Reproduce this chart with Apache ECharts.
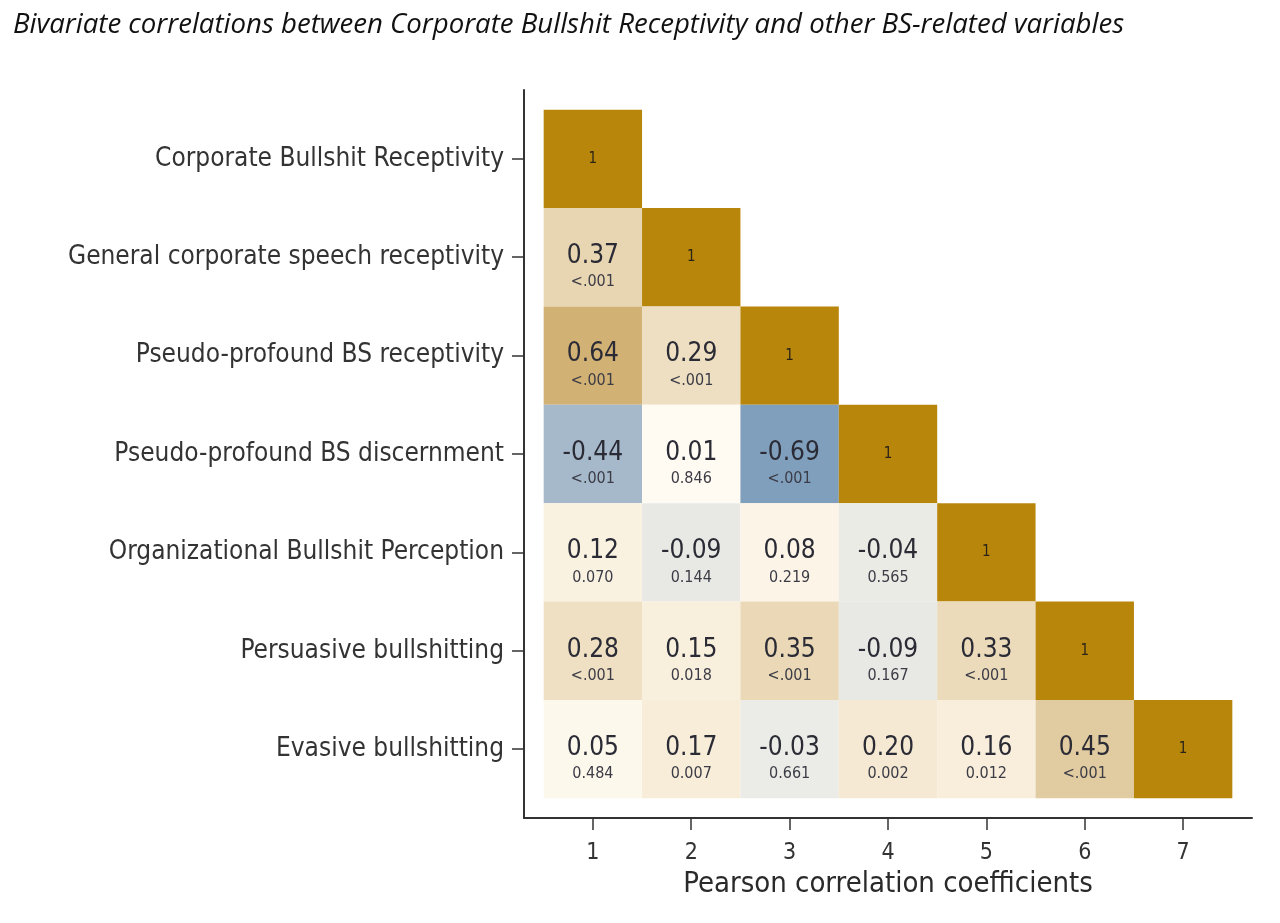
<!DOCTYPE html>
<html>
<head>
<meta charset="utf-8">
<script src="https://cdn.jsdelivr.net/npm/echarts@6/dist/echarts.min.js"></script>
<style>
  html, body { margin: 0; padding: 0; background: #fff; }
  #chart { width: 1280px; height: 923px; }
</style>
</head>
<body>
<div id="chart"></div>
<script>
// Lower-triangle correlation matrix, row by row (row i has i+1 cells).
const rowLabels = [
  'Corporate Bullshit Receptivity',
  'General corporate speech receptivity',
  'Pseudo-profound BS receptivity',
  'Pseudo-profound BS discernment',
  'Organizational Bullshit Perception',
  'Persuasive bullshitting',
  'Evasive bullshitting'
]
const colLabels = ['1', '2', '3', '4', '5', '6', '7']
const rValues = [
  [1],
  [0.37, 1],
  [0.64, 0.29, 1],
  [-0.44, 0.01, -0.69, 1],
  [0.12, -0.09, 0.08, -0.04, 1],
  [0.28, 0.15, 0.35, -0.09, 0.33, 1],
  [0.05, 0.17, -0.03, 0.20, 0.16, 0.45, 1]
]
const pValues = [
  [],
  ['<.001'],
  ['<.001', '<.001'],
  ['<.001', '0.846', '<.001'],
  ['0.070', '0.144', '0.219', '0.565'],
  ['<.001', '0.018', '<.001', '0.167', '<.001'],
  ['0.484', '0.007', '0.661', '0.002', '0.012', '<.001']
]

const FONT = "'Liberation Sans Narrow', 'DejaVu Sans Condensed', 'Roboto Condensed', sans-serif"
const TICKS = [1, 2, 3, 4, 5, 6, 7]

// diverging ramp: steel blue (negative) -> grey/cream (zero) -> dark goldenrod (positive)
const colorStops = [
  [-1, [74, 118, 164]],
  [-0.69, [127, 159, 189]],
  [-0.44, [166, 185, 202]],
  [-0.09, [232, 233, 228]],
  [-0.001, [237, 237, 232]],
  [0, [255, 252, 243]],
  [0.15, [249, 239, 221]],
  [0.37, [232, 214, 178]],
  [0.64, [210, 177, 116]],
  [0.999, [196, 152, 70]],
  [1, [184, 134, 11]]
]

function colorFor(v) {
  for (let i = 1; i < colorStops.length; i++) {
    const a = colorStops[i - 1], b = colorStops[i]
    if (v <= b[0]) {
      const t = (v - a[0]) / (b[0] - a[0])
      const c = a[1].map(function (x, k) { return Math.round(x + (b[1][k] - x) * t) })
      return 'rgb(' + c.join(',') + ')'
    }
  }
  return 'rgb(184,134,11)'
}

const cells = []
rValues.forEach(function (row, i) {
  row.forEach(function (r, j) {
    cells.push([j + 1, i + 1, r, j === i ? '' : pValues[i][j]])
  })
})

const chart = echarts.init(document.getElementById('chart'))
chart.setOption({
  backgroundColor: '#fff',
  animation: false,
  title: {
    text: 'Bivariate correlations between Corporate Bullshit Receptivity and other BS-related variables',
    left: 8, top: 6,
    textStyle: { fontFamily: "'Open Sans', sans-serif", fontStyle: 'italic', fontWeight: 'normal', fontSize: 27.6, color: '#111' }
  },
  grid: { left: 524, right: 28, top: 90, bottom: 105 },
  xAxis: {
    type: 'value', min: 0.3, max: 7.7,
    name: 'Pearson correlation coefficients',
    nameLocation: 'middle', nameGap: 52,
    nameTextStyle: { fontFamily: FONT, fontSize: 29, color: '#2a2a2a' },
    axisLine: { show: true, lineStyle: { color: '#333', width: 2 } },
    axisTick: { show: true, length: 12, customValues: TICKS, lineStyle: { color: '#333', width: 1.5 } },
    axisLabel: {
      customValues: TICKS, margin: 24,
      fontFamily: FONT, fontSize: 23, color: '#333',
      formatter: function (v) { return colLabels[Math.round(v) - 1] }
    },
    splitLine: { show: false }
  },
  yAxis: {
    type: 'value', min: 0.3, max: 7.7, inverse: true,
    axisLine: { show: true, lineStyle: { color: '#333', width: 2 } },
    axisTick: { show: true, length: 12, customValues: TICKS, lineStyle: { color: '#333', width: 1.5 } },
    axisLabel: {
      customValues: TICKS, margin: 20,
      fontFamily: FONT, fontSize: 26, color: '#333',
      formatter: function (v) { return rowLabels[Math.round(v) - 1] }
    },
    splitLine: { show: false }
  },
  series: [{
    type: 'custom',
    data: cells,
    renderItem: function (params, api) {
      const x = api.value(0), y = api.value(1), r = api.value(2)
      const p = cells[params.dataIndex][3]
      const c = api.coord([x, y])
      const s = api.size([1, 1])
      const diag = x === y
      const children = [{
        type: 'rect',
        shape: { x: c[0] - s[0] / 2, y: c[1] - s[1] / 2, width: s[0], height: s[1] },
        style: { fill: colorFor(r) }
      }]
      if (diag) {
        children.push({
          type: 'text',
          style: { x: c[0], y: c[1], text: '1', align: 'center', verticalAlign: 'middle', font: '15px ' + FONT, fill: '#2a2418' }
        })
      } else {
        children.push({
          type: 'text',
          style: { x: c[0], y: c[1] - 1, text: r.toFixed(2), align: 'center', verticalAlign: 'middle', font: '26px ' + FONT, fill: '#2b2b35' }
        }, {
          type: 'text',
          style: { x: c[0], y: c[1] + 25, text: p, align: 'center', verticalAlign: 'middle', font: '16px ' + FONT, fill: '#3c3c46' }
        })
      }
      return { type: 'group', children: children }
    }
  }]
})
</script>
</body>
</html>
